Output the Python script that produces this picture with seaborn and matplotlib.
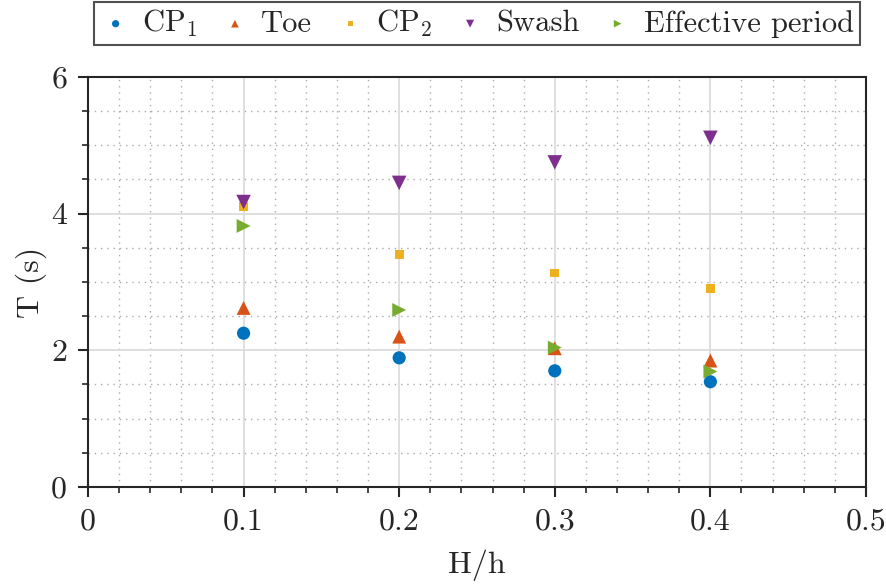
import numpy as np
import pandas as pd
import matplotlib
matplotlib.use("Agg")
import matplotlib.pyplot as plt
import seaborn as sns
from matplotlib.ticker import MultipleLocator

# ---- data ----
x_vals = [0.1, 0.2, 0.3, 0.4]
cp1 = [2.25, 1.89, 1.70, 1.54]
toe = [2.62, 2.20, 2.03, 1.85]
cp2 = [4.11, 3.40, 3.13, 2.91]
swash = [4.17, 4.45, 4.75, 5.11]
eff = [3.82, 2.59, 2.04, 1.69]
series_names = [r"$\mathrm{CP}_1$", "Toe", r"$\mathrm{CP}_2$", "Swash", "Effective period"]
series_vals = [cp1, toe, cp2, swash, eff]

colors = ["#0072BD", "#D95319", "#EDB120", "#7E2F8E", "#77AC30"]
markers = ["o", "^", "s", "v", ">"]
sizes = [90, 100, 40, 110, 100]

sns.set_theme(style="white")
plt.rcParams["font.family"] = ["serif"]
plt.rcParams["font.serif"] = ["cmr10"]
plt.rcParams["mathtext.fontset"] = "cm"
plt.rcParams["axes.formatter.use_mathtext"] = True

fig = plt.figure(figsize=(8.86, 5.86), dpi=100)
ax = fig.add_axes([0.0993, 0.169, 0.9774 - 0.0993, 0.8686 - 0.169])

for name, vals, c, m, s in zip(series_names, series_vals, colors, markers, sizes):
    df = pd.DataFrame({"H/h": x_vals, "T": vals})
    sns.scatterplot(data=df, x="H/h", y="T", ax=ax, color=c, marker=m, s=s,
                    edgecolor="none", label=name, zorder=3)

ax.set_xlim(0, 0.5)
ax.set_ylim(0, 6)
ax.xaxis.set_minor_locator(MultipleLocator(0.02))
ax.yaxis.set_minor_locator(MultipleLocator(0.5))
ax.set_xticks([0, 0.1, 0.2, 0.3, 0.4, 0.5])
ax.set_xticklabels(["0", "0.1", "0.2", "0.3", "0.4", "0.5"])
ax.set_yticks([0, 2, 4, 6])
ax.set_yticklabels(["0", "2", "4", "6"])

ax.grid(which="major", color="#dcdcdc", linewidth=1.3, linestyle="-", zorder=0)
ax.grid(which="minor", color="#aaaaaa", linewidth=1.0, linestyle=(0, (1, 3.5)), zorder=0)
ax.set_axisbelow(True)

for sp in ax.spines.values():
    sp.set_visible(True)
    sp.set_color("#262626")
    sp.set_linewidth(1.5)

ax.tick_params(axis="both", which="major", direction="out", length=7, width=1.5,
               color="#262626", labelsize=23, labelcolor="#262626", pad=8,
               bottom=True, left=True, top=False, right=False)
ax.tick_params(axis="both", which="minor", direction="out", length=4, width=1.2,
               color="#262626", bottom=True, left=True, top=False, right=False)

ax.set_xlabel("H/h", fontsize=23, color="#262626", labelpad=10)
ax.set_ylabel("T (s)", fontsize=23, color="#262626", labelpad=3)

leg = ax.legend(loc="lower center", bbox_to_anchor=(0.5, 1.078), ncol=5,
                frameon=True, fancybox=False, edgecolor="#262626", fontsize=22,
                markerscale=0.55, borderaxespad=0, handletextpad=0.35,
                handlelength=1.0, columnspacing=0.75, borderpad=0.2)
leg.get_frame().set_linewidth(1.5)

fig.savefig("out.png", dpi=100)
